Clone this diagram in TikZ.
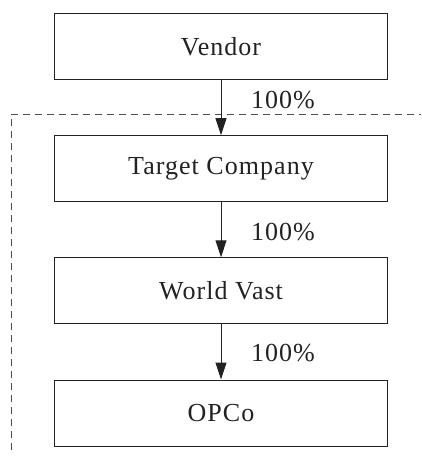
\documentclass[tikz,border=0pt]{standalone}
\usepackage{fontspec}
\setmainfont[LetterSpace=4]{Liberation Serif}
\usetikzlibrary{positioning}
\usetikzlibrary{arrows.meta}
\definecolor{ink}{HTML}{222222}
\tikzset{x=1pt, y=1pt,
entity/.style={ % Sets the properties for each company box
draw=ink,
line width=1pt,
minimum width=333pt,
minimum height=66pt,
text=ink,
font=\fontsize{26}{31}\selectfont},
share/.style={ % Percentage next to an arrow
text=ink,
inner sep=0pt,
font=\fontsize{26}{31}\selectfont},
every edge/.style={ % Sets the properties for each ownership arrow
draw=ink,
line width=1pt,
-{Triangle[length=17pt,width=11pt]}},
boundary/.style={ % Perimeter of the acquired group
draw=ink!80,
line width=1pt,
dash pattern=on 7pt off 5pt}}

\begin{document}
\begin{tikzpicture}
\useasboundingbox (0,0) rectangle (421,-457);
\node[entity] (vendor) at (221,-46.3) {Vendor};
\node[entity] (target) at (221,-168.7) {Target Company};
\node[entity] (world) at (221,-290.8) {World Vast};
\node[entity] (opco) at (221,-413) {OPCo};
\coordinate (c1) at (11,-450);
\coordinate (c2) at (11,-114.3);
\coordinate (c3) at (421,-114.3);
\draw[boundary] (c1) -- (c2) -- (c3);
\draw (vendor) edge (target);
\draw (target) edge (world);
\draw (world) edge (opco);
\node[share] (p1) at (283,-100) {100\%};
\node[share] (p2) at (283,-232) {100\%};
\node[share] (p3) at (283,-353) {100\%};
\end{tikzpicture}
\end{document}
